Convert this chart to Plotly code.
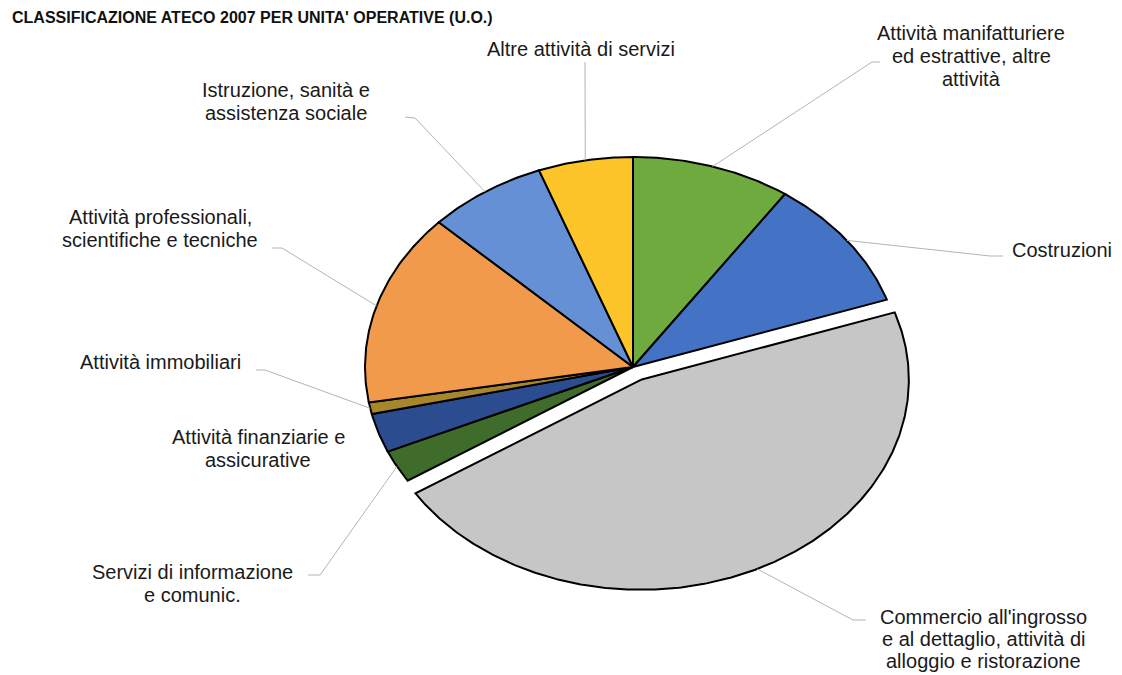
import numpy as np
import plotly.graph_objects as go

# ATECO 2007 sections, clockwise from 12 o'clock
categories = [
    "Attività manifatturiere ed estrattive, altre attività",
    "Costruzioni",
    "Commercio all'ingrosso e al dettaglio, attività di alloggio e ristorazione",
    "Servizi di informazione e comunic.",
    "Attività finanziarie e assicurative",
    "Attività immobiliari",
    "Attività professionali, scientifiche e tecniche",
    "Istruzione, sanità e assistenza sociale",
    "Altre attività di servizi",
]
shares = [9.6, 10.2, 46.1, 2.5, 3.0, 0.9, 14.8, 7.2, 5.7]
label_lines = [
    ["Attività manifatturiere", "ed estrattive, altre", "attività"],
    ["Costruzioni"],
    ["Commercio all'ingrosso", "e al dettaglio, attività di", "alloggio e ristorazione"],
    ["Servizi di informazione", "e comunic."],
    ["Attività finanziarie e", "assicurative"],
    ["Attività immobiliari"],
    ["Attività professionali,", "scientifiche e tecniche"],
    ["Istruzione, sanità e", "assistenza sociale"],
    ["Altre attività di servizi"],
]
exploded = "Commercio all'ingrosso e al dettaglio, attività di alloggio e ristorazione"
title = "CLASSIFICAZIONE ATECO 2007 PER UNITA' OPERATIVE (U.O.)"

colors = ["#6EAA3E", "#4472C4", "#C6C6C6", "#3F6B2B", "#2B4C8E",
          "#A8862C", "#F29A4B", "#6690D6", "#FDC52A"]

# page geometry (pixel-like axes, y grows downwards)
W, H = 1122, 675
CX, CY = 633, 367
RX, RY = 268, 210
PULL = 15
FONT = "Arial, Liberation Sans, sans-serif"

# label placement: centre x, first-line y, line spacing, leader polyline start
label_pos = [
    (971, 33, 23, [(880, 62), (872, 62)]),
    (1062, 250, 23, [(1003, 256), (990, 256)]),
    (983, 617, 22, [(866, 620), (853, 620)]),
    (192, 572, 23, [(308, 575), (320, 575)]),
    (258, 437, 23, None),
    (160, 362, 23, [(256, 370), (265, 370)]),
    (160, 217, 23, [(272, 248), (282, 248)]),
    (286, 90, 23, [(405, 117), (415, 118)]),
    (581, 49, 23, [(585, 62)]),
]


def ellipse_point(t, dx=0.0, dy=0.0):
    return CX + dx + RX * np.sin(t), CY + dy - RY * np.cos(t)


fig = go.Figure()

total = float(sum(shares))
bounds = np.concatenate([[0.0], np.cumsum(shares)]) / total * 2 * np.pi

edge_points = []
for i, (cat, col) in enumerate(zip(categories, colors)):
    t0, t1 = bounds[i], bounds[i + 1]
    tm = 0.5 * (t0 + t1)
    dx = dy = 0.0
    if cat == exploded:
        ux, uy = RX * np.sin(tm), -RY * np.cos(tm)
        n = np.hypot(ux, uy)
        dx, dy = PULL * ux / n, PULL * uy / n
    ts = np.linspace(t0, t1, max(4, int((t1 - t0) / (2 * np.pi) * 720)))
    ax, ay = ellipse_point(ts, dx, dy)
    xs = np.concatenate([[CX + dx], ax, [CX + dx]])
    ys = np.concatenate([[CY + dy], ay, [CY + dy]])
    fig.add_trace(go.Scatter(
        x=xs, y=ys, mode="lines", fill="toself", fillcolor=col,
        line=dict(color="#000000", width=2), name=cat,
        hoverinfo="name", showlegend=False,
    ))
    edge_points.append(ellipse_point(tm, dx, dy))

# leader lines from labels to slice edges
for (lx, ly, lh, start), (ex, ey) in zip(label_pos, edge_points):
    if start is None:
        continue
    px = [p[0] for p in start] + [ex]
    py = [p[1] for p in start] + [ey]
    fig.add_trace(go.Scatter(
        x=px, y=py, mode="lines", line=dict(color="#B4B4B4", width=1),
        hoverinfo="skip", showlegend=False,
    ))

annotations = []
for lines, (lx, ly, lh, _) in zip(label_lines, label_pos):
    for k, txt in enumerate(lines):
        annotations.append(dict(
            x=lx, y=ly + k * lh, xref="x", yref="y", text=txt,
            showarrow=False, xanchor="center", yanchor="middle",
            font=dict(family=FONT, size=20, color="#1A1A1A"),
        ))

annotations.append(dict(
    x=10, y=17, xref="x", yref="y", text="<b>" + title + "</b>",
    showarrow=False, xanchor="left", yanchor="middle",
    font=dict(family=FONT, size=16, color="#111111"),
))

fig.update_layout(
    width=W, height=H, margin=dict(l=0, r=0, t=0, b=0),
    paper_bgcolor="white", plot_bgcolor="white",
    xaxis=dict(range=[0, W], visible=False, fixedrange=True),
    yaxis=dict(range=[H, 0], visible=False, fixedrange=True),
    annotations=annotations, showlegend=False,
)

fig.write_html("out.html")
